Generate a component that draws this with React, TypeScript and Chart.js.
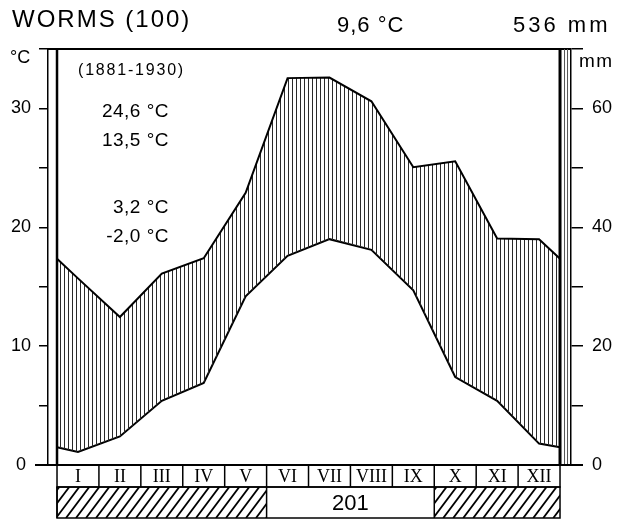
import React, { useEffect, useRef } from 'react';
import { Chart, registerables } from 'chart.js';

Chart.register(...registerables);

// ---- Data ----
const months = ['I', 'II', 'III', 'IV', 'V', 'VI', 'VII', 'VIII', 'IX', 'X', 'XI', 'XII'];
const tempC = [1.1, 2.4, 5.4, 6.9, 14.2, 17.6, 19.0, 18.1, 14.7, 7.4, 5.4, 1.8];
const precipMm = [31.4, 24.9, 32.2, 34.8, 45.8, 65.1, 65.2, 61.2, 50.1, 51.1, 38.1, 38.0];
// values drawn at the Dec/Jan frame edges
const tempEdgeC = 1.5;
const precipEdgeMm = 34.7;
// months with frost (diagonal hatching in the lower strip)
const frostMonths = [true, true, true, true, true, false, false, false, false, true, true, true];
const frostFreeDays = '201';
const tempLabels = [0, 10, 20, 30];
const precipLabels = [0, 20, 40, 60];

const stationTitle = 'WORMS (100)';
const meanTempText = '9,6 °C';
const annualPrecipText = '536 mm';
const periodText = '(1881-1930)';
const statTexts = ['24,6 °C', '13,5 °C', '3,2 °C', '-2,0 °C'];

const SANS = '"Liberation Sans", Arial, sans-serif';
const SERIF = '"Liberation Serif", "Times New Roman", serif';

function makeVHatch(): CanvasPattern | string {
  const c = document.createElement('canvas');
  c.width = 4;
  c.height = 4;
  const g = c.getContext('2d');
  if (!g) return '#999';
  g.fillStyle = '#2a2a2a';
  g.fillRect(0, 0, 1, 4);
  const p = g.createPattern(c, 'repeat');
  return p || '#999';
}

const decorPlugin = {
  id: 'walterDecor',
  afterDraw(chart: any) {
    const ctx: CanvasRenderingContext2D = chart.ctx;
    const xs = chart.scales.x;
    const yt = chart.scales.y;
    const ca = chart.chartArea;
    const x0 = xs.getPixelForValue(0);
    const x12 = xs.getPixelForValue(12);
    const top = yt.getPixelForValue(35);
    const base = yt.getPixelForValue(0);
    ctx.save();
    ctx.strokeStyle = '#000';
    ctx.fillStyle = '#000';

    // top frame line
    ctx.lineWidth = 2;
    ctx.beginPath();
    ctx.moveTo(ca.left, top);
    ctx.lineTo(ca.right, top);
    ctx.stroke();

    // inner left frame line
    ctx.lineWidth = 2.5;
    ctx.beginPath();
    ctx.moveTo(x0, top);
    ctx.lineTo(x0, base);
    ctx.stroke();

    // right frame with thin hatched strip
    ctx.lineWidth = 3;
    ctx.beginPath();
    ctx.moveTo(x12, top);
    ctx.lineTo(x12, base);
    ctx.stroke();
    ctx.lineWidth = 1;
    ctx.strokeStyle = '#555';
    for (const dx of [4.5, 7.5]) {
      ctx.beginPath();
      ctx.moveTo(x12 + dx, top);
      ctx.lineTo(x12 + dx, base);
      ctx.stroke();
    }
    ctx.strokeStyle = '#000';

    // baseline
    ctx.lineWidth = 2;
    ctx.beginPath();
    ctx.moveTo(35, base);
    ctx.lineTo(ca.right + 12, base);
    ctx.stroke();

    // month boxes
    const r1Top = base;
    const r1Bot = base + 22;
    const r2Bot = base + 53;
    ctx.lineWidth = 1.5;
    ctx.strokeRect(x0, r1Top, x12 - x0, r1Bot - r1Top);
    ctx.font = `18px ${SERIF}`;
    ctx.textAlign = 'center';
    ctx.textBaseline = 'middle';
    months.forEach((m, i) => {
      const a = xs.getPixelForValue(i);
      if (i > 0) {
        ctx.beginPath();
        ctx.moveTo(a, r1Top);
        ctx.lineTo(a, r1Bot);
        ctx.stroke();
      }
      ctx.fillText(m, xs.getPixelForValue(i + 0.5), (r1Top + r1Bot) / 2 + 1);
    });

    // frost strip
    ctx.lineWidth = 1.5;
    ctx.strokeRect(x0, r1Bot, x12 - x0, r2Bot - r1Bot);
    let i = 0;
    while (i < 12) {
      const f = frostMonths[i];
      let j = i;
      while (j < 12 && frostMonths[j] === f) j++;
      const a = xs.getPixelForValue(i);
      const b = xs.getPixelForValue(j);
      ctx.beginPath();
      ctx.moveTo(a, r1Bot);
      ctx.lineTo(a, r2Bot);
      ctx.stroke();
      if (f) {
        ctx.save();
        ctx.beginPath();
        ctx.rect(a, r1Bot, b - a, r2Bot - r1Bot);
        ctx.clip();
        ctx.lineWidth = 1.8;
        const h = r2Bot - r1Bot;
        for (let x = a - h; x < b + h; x += 10) {
          ctx.beginPath();
          ctx.moveTo(x, r2Bot);
          ctx.lineTo(x + h * 0.75, r1Bot);
          ctx.stroke();
        }
        ctx.restore();
      } else {
        ctx.font = `22px ${SANS}`;
        ctx.textAlign = 'center';
        ctx.textBaseline = 'middle';
        ctx.fillText(frostFreeDays, (a + b) / 2, (r1Bot + r2Bot) / 2 + 1);
      }
      i = j;
    }

    // texts
    ctx.textBaseline = 'alphabetic';
    ctx.textAlign = 'left';
    const setSpacing = (s: string) => {
      try { (ctx as any).letterSpacing = s; } catch (e) { /* ignore */ }
    };
    ctx.font = `24px ${SANS}`;
    setSpacing('2px');
    ctx.fillText(stationTitle, 12, 27);
    ctx.font = `22px ${SANS}`;
    setSpacing('1px');
    ctx.fillText(meanTempText, 337, 32);
    setSpacing('3px');
    ctx.fillText(annualPrecipText, 513, 32);
    ctx.font = `18px ${SANS}`;
    setSpacing('0px');
    ctx.fillText('°C', 10, 63);
    ctx.font = `19px ${SANS}`;
    setSpacing('1.5px');
    ctx.fillText('mm', 579, 67);
    ctx.font = `16px ${SANS}`;
    setSpacing('1.8px');
    ctx.fillText(periodText, 78, 75);
    ctx.font = `19px ${SANS}`;
    setSpacing('0.5px');
    ctx.textAlign = 'right';
    const ys = [117, 146, 213, 242];
    statTexts.forEach((t, k) => ctx.fillText(t, 169, ys[k]));
    setSpacing('0px');
    ctx.restore();
  },
};

export default function App() {
  const ref = useRef<HTMLCanvasElement | null>(null);
  useEffect(() => {
    if (!ref.current) return;
    const hatch = makeVHatch();
    const tempPts = [
      { x: 0, y: tempEdgeC },
      ...tempC.map((v, i) => ({ x: i + 0.5, y: v })),
      { x: 12, y: tempEdgeC },
    ];
    const precipPts = [
      { x: 0, y: precipEdgeMm },
      ...precipMm.map((v, i) => ({ x: i + 0.5, y: v })),
      { x: 12, y: precipEdgeMm },
    ];
    const chart = new Chart(ref.current, {
      type: 'line',
      data: {
        datasets: [
          {
            label: 'Niederschlag (mm)',
            data: precipPts,
            yAxisID: 'y2',
            borderColor: '#000',
            borderWidth: 2,
            pointRadius: 0,
            tension: 0,
            fill: { target: 1 },
            backgroundColor: hatch as any,
          },
          {
            label: 'Temperatur (°C)',
            data: tempPts,
            yAxisID: 'y',
            borderColor: '#000',
            borderWidth: 2,
            pointRadius: 0,
            tension: 0,
            fill: false,
          },
        ],
      },
      options: {
        responsive: false,
        animation: false,
        layout: { padding: { top: 49, bottom: 56, left: 0, right: 0 } },
        plugins: { legend: { display: false }, tooltip: { enabled: false } },
        scales: {
          x: { type: 'linear', min: -0.215, max: 12.262, display: false },
          y: {
            position: 'left',
            min: 0,
            max: 35,
            afterFit: (s: any) => { s.width = 48; },
            ticks: {
              stepSize: 5,
              color: '#000',
              font: { family: SANS, size: 18 },
              crossAlign: 'center',
              padding: 8,
              callback: (v: any) => (tempLabels.includes(Number(v)) ? String(v) : ''),
            },
            grid: { drawOnChartArea: false, tickLength: 9, color: '#000', lineWidth: 1.5 },
            border: { display: true, color: '#000', width: 1.5 },
          },
          y2: {
            position: 'right',
            min: 0,
            max: 70,
            afterFit: (s: any) => { s.width = 47; },
            ticks: {
              stepSize: 10,
              color: '#000',
              font: { family: SANS, size: 18 },
              crossAlign: 'near',
              padding: 9,
              callback: (v: any) => (precipLabels.includes(Number(v)) ? String(v) : ''),
            },
            grid: { drawOnChartArea: false, tickLength: 12, color: '#000', lineWidth: 1.5 },
            border: { display: true, color: '#000', width: 1.5 },
          },
        },
      },
      plugins: [decorPlugin],
    } as any);
    return () => chart.destroy();
  }, []);
  return (
    <div style={{ position: 'fixed', left: 0, top: 0, width: 618, height: 521, background: '#fff' }}>
      <canvas ref={ref} width={618} height={521} style={{ display: 'block' }} />
    </div>
  );
}
